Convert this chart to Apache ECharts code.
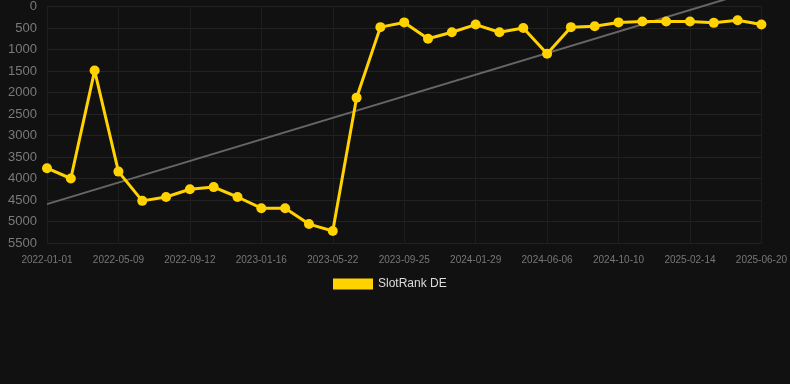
<!DOCTYPE html>
<html>
<head>
<meta charset="utf-8">
<script src="https://cdn.jsdelivr.net/npm/echarts@6/dist/echarts.min.js"></script>
<style>
  html, body { margin: 0; padding: 0; background: #111111; }
  #chart { width: 790px; height: 384px; }
</style>
</head>
<body>
<div id="chart"></div>
<script>
var dates = [
    '2022-01-01', '2022-02-13', '2022-03-28', '2022-05-09', '2022-06-20', '2022-08-01',
    '2022-09-12', '2022-10-24', '2022-12-05', '2023-01-16', '2023-02-27', '2023-04-10',
    '2023-05-22', '2023-07-03', '2023-08-14', '2023-09-25', '2023-11-06', '2023-12-18',
    '2024-01-29', '2024-03-12', '2024-04-24', '2024-06-06', '2024-07-18', '2024-08-29',
    '2024-10-10', '2024-11-22', '2025-01-03', '2025-02-14', '2025-03-28', '2025-05-09',
    '2025-06-20'
];
var rankDE = [
    3760, 4000, 1490, 3840, 4520, 4430,
    4250, 4200, 4430, 4690, 4690, 5060,
    5220, 2120, 480, 370, 750, 600,
    420, 600, 500, 1100, 480, 460,
    370, 350, 350, 350, 380, 320,
    420
];
// trend line values at first and last category
var trendStart = 4595;
var trendEnd = -420;

var trendData = dates.map(function (d, i) {
    if (i === 0) return trendStart;
    if (i === dates.length - 1) return trendEnd;
    return null;
});

var chart = echarts.init(document.getElementById('chart'));
var option = {
    backgroundColor: '#111111',
    animation: false,
    grid: {
        left: 47,
        right: 28,
        top: 6,
        bottom: 141
    },
    legend: {
        top: 273,
        left: 328,
        itemWidth: 40,
        itemHeight: 11,
        data: [{ name: 'SlotRank DE', icon: 'rect' }],
        textStyle: { color: '#dddddd', fontSize: 12, fontFamily: 'Arial, Liberation Sans, sans-serif' }
    },
    xAxis: {
        type: 'category',
        data: dates,
        boundaryGap: false,
        axisLine: { show: false },
        axisTick: { show: false },
        axisLabel: {
            interval: 2,
            color: '#777777',
            fontSize: 10,
            margin: 12,
            fontFamily: 'Arial, Liberation Sans, sans-serif'
        },
        splitLine: {
            show: true,
            interval: 2,
            lineStyle: { color: '#1e1e1e', width: 1 }
        }
    },
    yAxis: {
        type: 'value',
        inverse: true,
        min: 0,
        max: 5500,
        interval: 500,
        axisLine: { show: false },
        axisTick: { show: false },
        axisLabel: {
            color: '#7a7a7a',
            fontSize: 13,
            margin: 10,
            fontFamily: 'Arial, Liberation Sans, sans-serif',
            formatter: function (v) { return String(v); }
        },
        splitLine: { lineStyle: { color: '#222222', width: 1 } }
    },
    series: [
        {
            name: 'SlotRank DE',
            type: 'line',
            data: rankDE,
            color: '#FFD200',
            symbol: 'circle',
            symbolSize: 10,
            lineStyle: { width: 3, color: '#FFD200' },
            itemStyle: { color: '#FFD200' },
            z: 3
        },
        {
            name: 'trend',
            type: 'line',
            data: trendData,
            connectNulls: true,
            symbol: 'none',
            clip: false,
            lineStyle: { width: 2, color: '#666666' },
            z: 2
        }
    ]
};
chart.setOption(option);
</script>
</body>
</html>
